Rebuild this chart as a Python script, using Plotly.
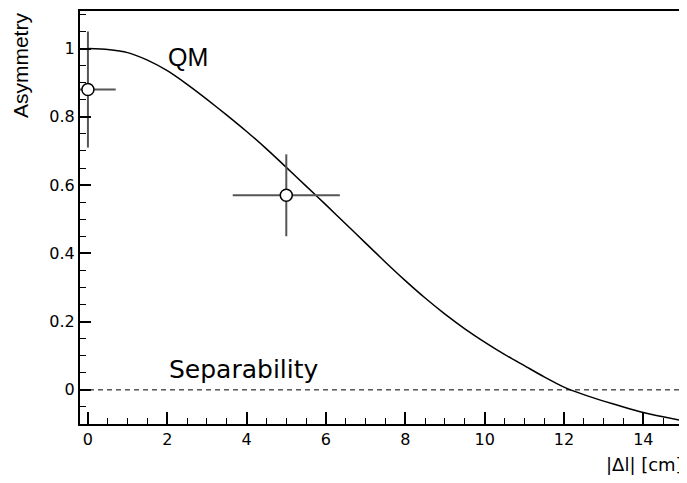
import plotly.graph_objects as go

# QM prediction curve
qm_x = [0, 0.5, 1, 1.5, 2, 2.5, 3, 3.5, 4, 4.5, 5, 5.5, 6, 6.5, 7, 7.5, 8,
        8.5, 9, 9.5, 10, 10.5, 11, 11.5, 12, 12.5, 13, 13.5, 14, 14.5, 15]
qm_y = [1.0, 0.997, 0.988, 0.966, 0.935, 0.895, 0.851, 0.805, 0.757, 0.706,
        0.652, 0.597, 0.542, 0.486, 0.430, 0.374, 0.320, 0.269, 0.222, 0.179,
        0.140, 0.104, 0.071, 0.038, 0.008, -0.014, -0.033, -0.050, -0.066,
        -0.079, -0.091]

# measured points
pt_x = [0.0, 5.0]
pt_y = [0.88, 0.57]
pt_ex = [0.7, 1.35]
pt_ey = [0.17, 0.12]

x_ticks = [0, 2, 4, 6, 8, 10, 12, 14]
y_ticks = [0, 0.2, 0.4, 0.6, 0.8, 1]
sep_level = 0

TICKFONT = dict(family="DejaVu Sans", size=16, color="black")

fig = go.Figure()
fig.add_trace(go.Scatter(x=qm_x, y=qm_y, mode="lines",
                         line=dict(color="black", width=1.5, shape="spline", smoothing=0.6),
                         hoverinfo="skip", showlegend=False))
fig.add_trace(go.Scatter(x=pt_x, y=pt_y, mode="markers",
                         marker=dict(symbol="circle", size=12, color="white",
                                     line=dict(color="black", width=1.5)),
                         error_x=dict(type="data", array=pt_ex, symmetric=True,
                                      color="#555555", thickness=2, width=0),
                         error_y=dict(type="data", array=pt_ey, symmetric=True,
                                      color="#555555", thickness=2, width=0),
                         cliponaxis=True, showlegend=False))

fig.add_shape(type="line", xref="paper", x0=0, x1=1, yref="y", y0=sep_level, y1=sep_level,
              line=dict(color="black", width=1, dash="5px,4px"), layer="below")

fig.add_annotation(x=2.52, y=0.975, xref="x", yref="y", text="QM", showarrow=False,
                   font=dict(family="Liberation Sans", size=25, color="black"),
                   xanchor="center", yanchor="middle")
fig.add_annotation(x=2.0, y=0.06, xref="x", yref="y", text="Separability", showarrow=False,
                   font=dict(family="DejaVu Sans", size=25, color="black"),
                   xanchor="left", yanchor="middle")
fig.add_annotation(x=-0.0995, y=0.869, xref="paper", yref="paper", text="Asymmetry",
                   showarrow=False, textangle=-90,
                   font=dict(family="Liberation Sans", size=21, color="black"),
                   xanchor="center", yanchor="middle")
fig.add_annotation(x=1.003, y=-0.098, xref="paper", yref="paper", text="|Δl| [cm]",
                   showarrow=False,
                   font=dict(family="DejaVu Sans", size=18, color="black"),
                   xanchor="right", yanchor="middle")

fig.update_xaxes(range=[-0.2, 15], tickvals=x_ticks, ticks="inside", ticklen=12,
                 tickwidth=1.5, tickcolor="black",
                 minor=dict(ticks="inside", ticklen=6, dtick=0.5, tick0=0,
                            tickwidth=1.2, tickcolor="black"),
                 showline=True, linewidth=2, linecolor="black", mirror=True,
                 showgrid=False, zeroline=False, tickfont=TICKFONT)
fig.update_yaxes(range=[-0.1, 1.11], tickvals=y_ticks, ticks="inside", ticklen=11,
                 tickwidth=1.5, tickcolor="black",
                 minor=dict(ticks="inside", ticklen=6, dtick=0.05, tick0=0,
                            tickwidth=1.2, tickcolor="black"),
                 showline=True, linewidth=2, linecolor="black", mirror=True,
                 showgrid=False, zeroline=False, tickfont=TICKFONT)

# the page body adds an 8px offset, so the figure is sized to fit the window
fig.update_layout(width=679, height=475,
                  margin=dict(l=72, r=4, t=1, b=59),
                  plot_bgcolor="white", paper_bgcolor="white",
                  showlegend=False)

fig.write_html("out.html")
